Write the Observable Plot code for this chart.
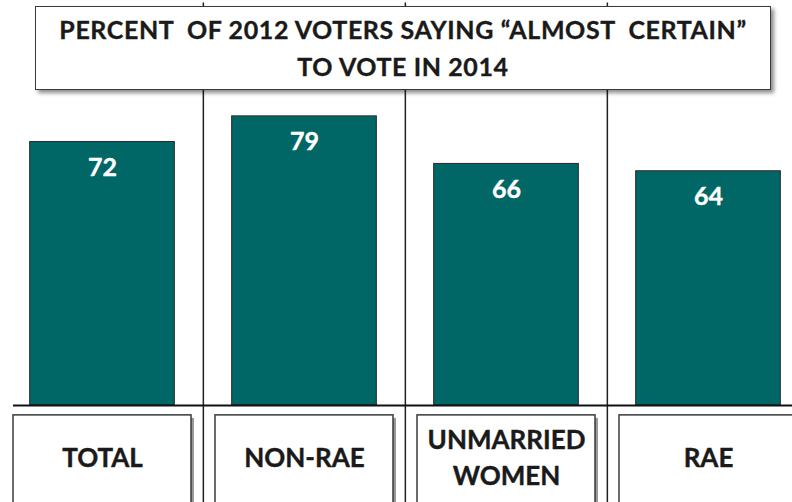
<!DOCTYPE html>
<html>
<head>
<meta charset="utf-8">
<script src="https://cdn.jsdelivr.net/npm/d3@7"></script>
<script src="https://cdn.jsdelivr.net/npm/@observablehq/plot@0.6"></script>
<style>
  html, body { margin: 0; padding: 0; background: white; overflow: hidden; }
  #wrap { position: relative; width: 792px; height: 502px; overflow: hidden; background: white; }
  #title {
    position: absolute; left: 35px; top: 6px; width: 736px; height: 84px;
    box-sizing: border-box; border: 1.5px solid #3a3a3a; background: white;
    box-shadow: 3px 3px 4px rgba(0,0,0,0.45);
    font-family: Lato, "Open Sans", sans-serif; font-weight: bold; font-size: 25px;
    letter-spacing: 0.6px; white-space: pre; -webkit-text-stroke: 0.35px #1a1a1a;
    color: #1a1a1a; text-align: center; line-height: 37px; padding-top: 4px; z-index: 2;
  }
  #chart svg { display: block; overflow: hidden; }
</style>
</head>
<body>
<div id="wrap">
  <div id="chart"></div>
  <div id="title"></div>
</div>
<script>
const categories = ["TOTAL", "NON-RAE", "UNMARRIED\nWOMEN", "RAE"];
const values = [72, 79, 66, 64];
const titleLines = ["PERCENT  OF 2012 VOTERS SAYING \u201CALMOST  CERTAIN\u201D", "TO VOTE IN 2014"];

const data = categories.map((c, i) => ({category: c, value: values[i]}));

document.getElementById("title").innerHTML = titleLines.map(t => `<div>${t}</div>`).join("");

const teal = "#006666";
const barInset = 28.65;
const boxInset = 12;

const chart = Plot.plot({
  width: 792,
  height: 502,
  marginTop: 0, marginRight: 0, marginBottom: 0, marginLeft: 13,
  x: {domain: categories, range: [0.35, 809.6], padding: 0, axis: null},
  y: {domain: [0, 100], range: [405, 39], axis: null},
  style: {fontFamily: "Lato, 'Open Sans', sans-serif", background: "white"},
  marks: [
    Plot.ruleX(categories.slice(1), {x: d => d, dx: -101.15, y1: -30, y2: 110, stroke: "#222", strokeWidth: 1.5}),
    Plot.barY(data, {x: "category", y: "value", fill: teal, stroke: "#2b2b2b", strokeWidth: 1, insetLeft: barInset, insetRight: barInset}),
    Plot.ruleY([0], {stroke: "#111", strokeWidth: 2}),
    Plot.text(data, {x: "category", y: "value", text: d => String(d.value), dy: 26, fill: "white", stroke: "white", strokeWidth: 0.4, fontSize: 25, fontWeight: "bold"}),
    Plot.barY(data, {x: "category", y1: -2.7, y2: -30, dx: 3, dy: 3, fill: "#000", fillOpacity: 0.4, insetLeft: boxInset, insetRight: boxInset, ariaLabel: "label-shadow"}),
    Plot.barY(data, {x: "category", y1: -2.7, y2: -30, fill: "white", stroke: "#3a3a3a", strokeWidth: 1.5, insetLeft: boxInset, insetRight: boxInset}),
    Plot.text(data, {x: "category", y: -13.7, text: "category", fontSize: 26, fontWeight: "bold", lineHeight: 1.4, fill: "#1a1a1a", stroke: "#1a1a1a", strokeWidth: 0.4})
  ]
});

const svg = d3.select(chart);
const defs = svg.insert("defs", ":first-child");
defs.append("filter").attr("id", "soft").attr("x", "-10%").attr("y", "-10%").attr("width", "130%").attr("height", "130%")
  .append("feGaussianBlur").attr("stdDeviation", 1.8);
svg.selectAll('g[aria-label="label-shadow"]').attr("filter", "url(#soft)");

document.getElementById("chart").appendChild(chart);
</script>
</body>
</html>
